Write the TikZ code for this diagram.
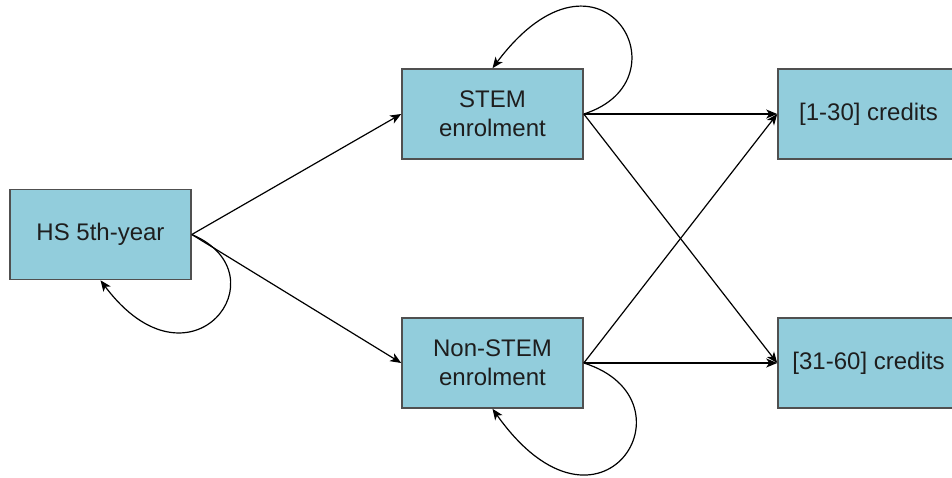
\documentclass[tikz,border=0pt]{standalone}
\usepackage{fontspec}
\setmainfont{Liberation Sans}
\usetikzlibrary{arrows.meta}
\definecolor{boxfill}{HTML}{92CDDC}
\definecolor{boxedge}{HTML}{505050}
\definecolor{ink}{HTML}{1E1E1E}
\begin{document}
\begin{tikzpicture}[x=0.5pt,y=-0.5pt,
  state/.style={draw=boxedge,line width=0.8pt,fill=boxfill,
    minimum width=90.5pt,minimum height=45pt,inner sep=0pt,
    align=center,text=ink,font=\fontsize{12}{14.5}\selectfont},
  link/.style={draw=black,line width=0.6pt,
    -{Stealth[length=5.5pt,width=4.5pt,inset=1.5pt]}}]
\useasboundingbox (0,0) rectangle (952,477);

% states
\node[state] (hs)   at (100.5,234.5) {HS 5th-year};
\node[state] (stem) at (492.5,114)   {STEM\\enrolment};
\node[state] (non)  at (492.5,363)   {Non-STEM\\enrolment};
\node[state] (low)  at (868.5,114)   {[1-30] credits};
\node[state] (high) at (868.5,363)   {[31-60] credits};

% transitions
\draw[link] (hs.east) -- (stem.west);
\draw[link] (hs.east) -- (non.west);
\draw[link] (stem.east) -- (low.west);
\draw[link] (stem.east) -- (high.west);
\draw[link] (non.east) -- (low.west);
\draw[link] (non.east) -- (high.west);

% self-loops
\draw[link] (hs.east) .. controls +(94,40) and +(90,120) .. (hs.south);
\draw[link] (stem.east) .. controls +(107,-34) and +(108,-144) .. (stem.north);
\draw[link] (non.east) .. controls +(117,37) and +(108,152) .. (non.south);
\end{tikzpicture}
\end{document}
